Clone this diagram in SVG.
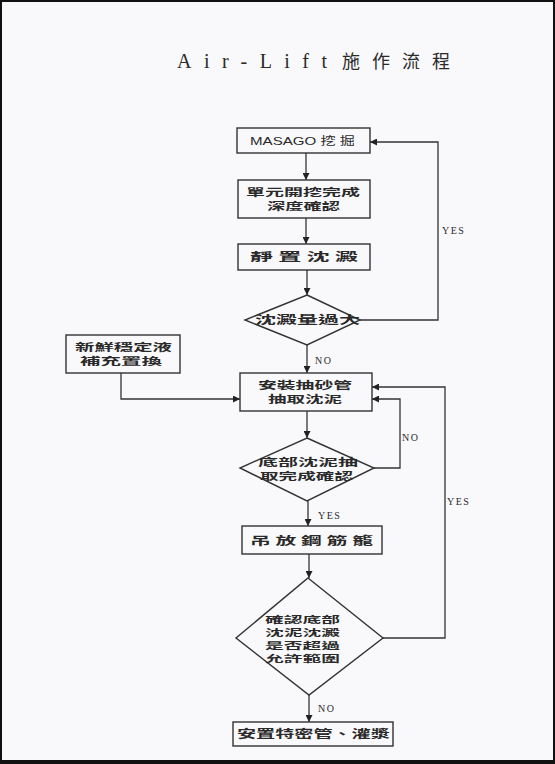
<svg xmlns="http://www.w3.org/2000/svg" width="555" height="764" viewBox="0 0 555 764">
<defs>
<marker id="arr" viewBox="0 0 10 10" refX="10" refY="5" markerWidth="7" markerHeight="7" markerUnits="userSpaceOnUse" orient="auto">
<path d="M0,0 L10,5 L0,10 z" fill="#222"/>
</marker>
<style>
.node rect, .node polygon { fill: none; stroke: #333; stroke-width: 1.4; }
.cj { font-family: "Noto Sans CJK TC", "Noto Sans CJK SC", sans-serif; font-size: 11.5px; font-weight: 700; fill: #2a2a2a; }
.cm { font-family: "Noto Sans CJK TC", "Noto Sans CJK SC", sans-serif; font-size: 10px; font-weight: 700; fill: #2a2a2a; }
.cs { font-family: "Noto Sans CJK TC", "Noto Sans CJK SC", sans-serif; font-size: 9px; font-weight: 700; fill: #2a2a2a; }
.lat { font-family: "Liberation Sans", "Noto Sans CJK TC", sans-serif; font-size: 11px; fill: #2a2a2a; }
.lbl { font-family: "Liberation Serif", serif; font-size: 10px; letter-spacing: 1.5px; fill: #2a2a2a; }
#connectors path { fill: none; stroke: #333; stroke-width: 1.3; }
</style>
</defs>
<rect x="0" y="0" width="555" height="764" fill="#f9f9fb"/>
<rect x="1" y="1" width="553" height="760" fill="none" stroke="#111" stroke-width="2"/>
<rect x="0" y="760" width="555" height="4" fill="#111"/>

<g id="title">
<text x="177" y="68" font-family="Liberation Serif, serif" font-size="20" fill="#2a2a2a" textLength="150" lengthAdjust="spacing">Air-Lift</text>
<text x="342" y="68" font-family="Noto Sans CJK TC, sans-serif" font-size="18" fill="#2a2a2a" textLength="108" lengthAdjust="spacing">施作流程</text>
</g>

<g id="connectors">
<path d="M306,153 V180" marker-end="url(#arr)"/>
<path d="M306,218 V244" marker-end="url(#arr)"/>
<path d="M307,270 V295" marker-end="url(#arr)"/>
<path d="M360,320 H438 V142 H370" marker-end="url(#arr)"/>
<path d="M307,345 V373" marker-end="url(#arr)"/>
<path d="M121,373 V399 H240" marker-end="url(#arr)"/>
<path d="M307,411 V438" marker-end="url(#arr)"/>
<path d="M374,468 H400 V399 H372" marker-end="url(#arr)"/>
<path d="M308,501 V526" marker-end="url(#arr)"/>
<path d="M309,554 V578" marker-end="url(#arr)"/>
<path d="M383,638 H445 V387 H372" marker-end="url(#arr)"/>
<path d="M309,695 V722" marker-end="url(#arr)"/>
<text class="lbl" x="442" y="234">YES</text>
<text class="lbl" x="315" y="364">NO</text>
<text class="lbl" x="402" y="441">NO</text>
<text class="lbl" x="318" y="519">YES</text>
<text class="lbl" x="447" y="505">YES</text>
<text class="lbl" x="318" y="712">NO</text>
</g>

<g id="n1" class="node">
<rect x="237" y="128" width="133" height="25"/>
<text class="lat" x="250" y="145" textLength="105" lengthAdjust="spacingAndGlyphs">MASAGO 挖 掘</text>
</g>
<g id="n2" class="node">
<rect x="238" y="180" width="132" height="38"/>
<text class="cm" x="246" y="196" textLength="114" lengthAdjust="spacingAndGlyphs">單元開挖完成</text>
<text class="cm" x="267" y="210" textLength="73" lengthAdjust="spacingAndGlyphs">深度確認</text>
</g>
<g id="n3" class="node">
<rect x="238" y="244" width="132" height="26"/>
<text class="cj" x="250" y="261" textLength="108" lengthAdjust="spacingAndGlyphs">靜 置 沈 澱</text>
</g>
<g id="d1" class="node">
<polygon points="307,295 360,320 307,345 245,320"/>
<text class="cj" x="255" y="324" textLength="105" lengthAdjust="spacingAndGlyphs">沈澱量過大</text>
</g>
<g id="n0" class="node">
<rect x="66" y="335" width="114" height="38"/>
<text class="cm" x="75" y="351" textLength="97" lengthAdjust="spacingAndGlyphs">新鮮穩定液</text>
<text class="cm" x="80" y="365" textLength="82" lengthAdjust="spacingAndGlyphs">補充置換</text>
</g>
<g id="n4" class="node">
<rect x="240" y="373" width="132" height="38"/>
<text class="cm" x="258" y="389" textLength="94" lengthAdjust="spacingAndGlyphs">安裝抽砂管</text>
<text class="cm" x="268" y="403" textLength="74" lengthAdjust="spacingAndGlyphs">抽取沈泥</text>
</g>
<g id="d2" class="node">
<polygon points="307,438 374,468 307,501 240,468"/>
<text class="cm" x="258" y="466" textLength="100" lengthAdjust="spacingAndGlyphs">底部沈泥抽</text>
<text class="cm" x="260" y="480" textLength="93" lengthAdjust="spacingAndGlyphs">取完成確認</text>
</g>
<g id="n5" class="node">
<rect x="242" y="526" width="140" height="28"/>
<text class="cj" x="250" y="545" textLength="123" lengthAdjust="spacingAndGlyphs">吊 放 鋼 筋 籠</text>
</g>
<g id="d3" class="node">
<polygon points="308,578 383,638 309,695 236,638"/>
<text class="cs" x="265" y="623" textLength="75" lengthAdjust="spacingAndGlyphs">確認底部</text>
<text class="cs" x="265" y="636" textLength="75" lengthAdjust="spacingAndGlyphs">沈泥沈澱</text>
<text class="cs" x="265" y="649" textLength="75" lengthAdjust="spacingAndGlyphs">是否超過</text>
<text class="cs" x="265" y="662" textLength="75" lengthAdjust="spacingAndGlyphs">允許範圍</text>
</g>
<g id="n6" class="node">
<rect x="233" y="722" width="160" height="24"/>
<text class="cj" x="237" y="738" textLength="153" lengthAdjust="spacingAndGlyphs">安置特密管、灌漿</text>
</g>
</svg>
